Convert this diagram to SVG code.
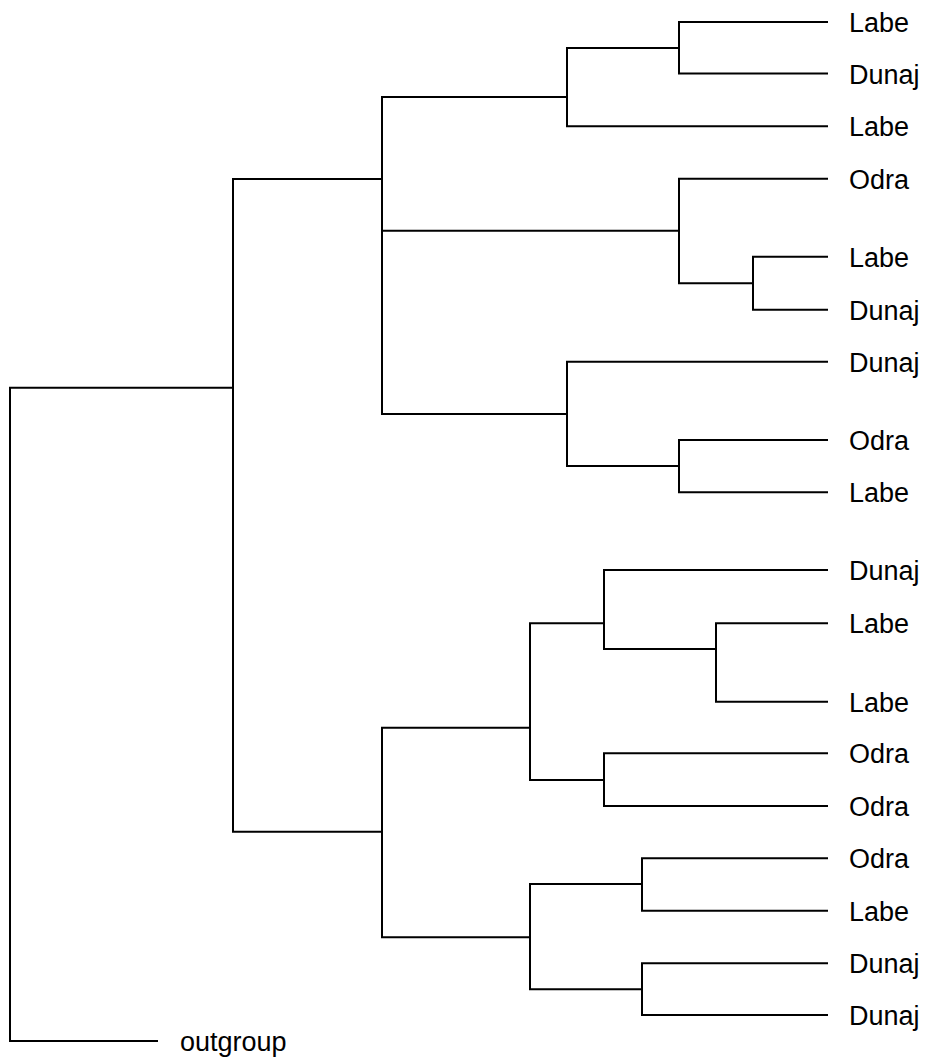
<svg xmlns="http://www.w3.org/2000/svg" width="927" height="1061" viewBox="0 0 927 1061">
  <style>
    .br { fill: none; stroke: #000; stroke-width: 2; stroke-linecap: square; }
    .lbl { font-family: "Liberation Sans", Arial, sans-serif; font-size: 27px; fill: #000; }
  </style>
  <rect width="927" height="1061" fill="#fff"/>

  <!-- branches: each path is one internal node (vertical span + child stems) -->
  <g id="connectors" class="br">
    <!-- root -->
    <path d="M10 387.7 V1041 H157 M10 387.7 H233"/>
    <!-- ingroup -->
    <path d="M233 179 V831.7 M233 179 H382 M233 831.7 H382"/>
    <!-- upper clade -->
    <path d="M382 97 V414 M382 97 H567 M382 230.7 H679 M382 414 H567"/>
    <path d="M567 48 V126.3 M567 48 H679 M567 126.3 H827"/>
    <path d="M679 22 V73.5 M679 22 H827 M679 73.5 H827"/>
    <path d="M679 178.7 V283.3 M679 178.7 H827 M679 283.3 H753"/>
    <path d="M753 256.7 V309.7 M753 256.7 H827 M753 309.7 H827"/>
    <path d="M567 361.7 V466 M567 361.7 H827 M567 466 H679"/>
    <path d="M679 440 V492.3 M679 440 H827 M679 492.3 H827"/>
    <!-- lower clade -->
    <path d="M382 727.7 V937.3 M382 727.7 H530 M382 937.3 H530"/>
    <path d="M530 623.3 V780 M530 623.3 H604 M530 780 H604"/>
    <path d="M604 570 V649 M604 570 H827 M604 649 H716"/>
    <path d="M716 623.3 V701.7 M716 623.3 H827 M716 701.7 H827"/>
    <path d="M604 753.3 V806 M604 753.3 H827 M604 806 H827"/>
    <path d="M530 884 V989.3 M530 884 H642 M530 989.3 H642"/>
    <path d="M642 858.3 V910.7 M642 858.3 H827 M642 910.7 H827"/>
    <path d="M642 963.3 V1015 M642 963.3 H827 M642 1015 H827"/>
  </g>

  <!-- tip labels -->
  <g id="leaf1"><text class="lbl" x="849" y="32">Labe</text></g>
  <g id="leaf2"><text class="lbl" x="849" y="83.5">Dunaj</text></g>
  <g id="leaf3"><text class="lbl" x="849" y="136.3">Labe</text></g>
  <g id="leaf4"><text class="lbl" x="849" y="188.7">Odra</text></g>
  <g id="leaf5"><text class="lbl" x="849" y="266.7">Labe</text></g>
  <g id="leaf6"><text class="lbl" x="849" y="319.7">Dunaj</text></g>
  <g id="leaf7"><text class="lbl" x="849" y="371.7">Dunaj</text></g>
  <g id="leaf8"><text class="lbl" x="849" y="450">Odra</text></g>
  <g id="leaf9"><text class="lbl" x="849" y="502.3">Labe</text></g>
  <g id="leaf10"><text class="lbl" x="849" y="580">Dunaj</text></g>
  <g id="leaf11"><text class="lbl" x="849" y="633.3">Labe</text></g>
  <g id="leaf12"><text class="lbl" x="849" y="711.7">Labe</text></g>
  <g id="leaf13"><text class="lbl" x="849" y="763.3">Odra</text></g>
  <g id="leaf14"><text class="lbl" x="849" y="816">Odra</text></g>
  <g id="leaf15"><text class="lbl" x="849" y="868.3">Odra</text></g>
  <g id="leaf16"><text class="lbl" x="849" y="920.7">Labe</text></g>
  <g id="leaf17"><text class="lbl" x="849" y="973.3">Dunaj</text></g>
  <g id="leaf18"><text class="lbl" x="849" y="1025">Dunaj</text></g>
  <g id="outgroup"><text class="lbl" x="180" y="1051">outgroup</text></g>
</svg>
